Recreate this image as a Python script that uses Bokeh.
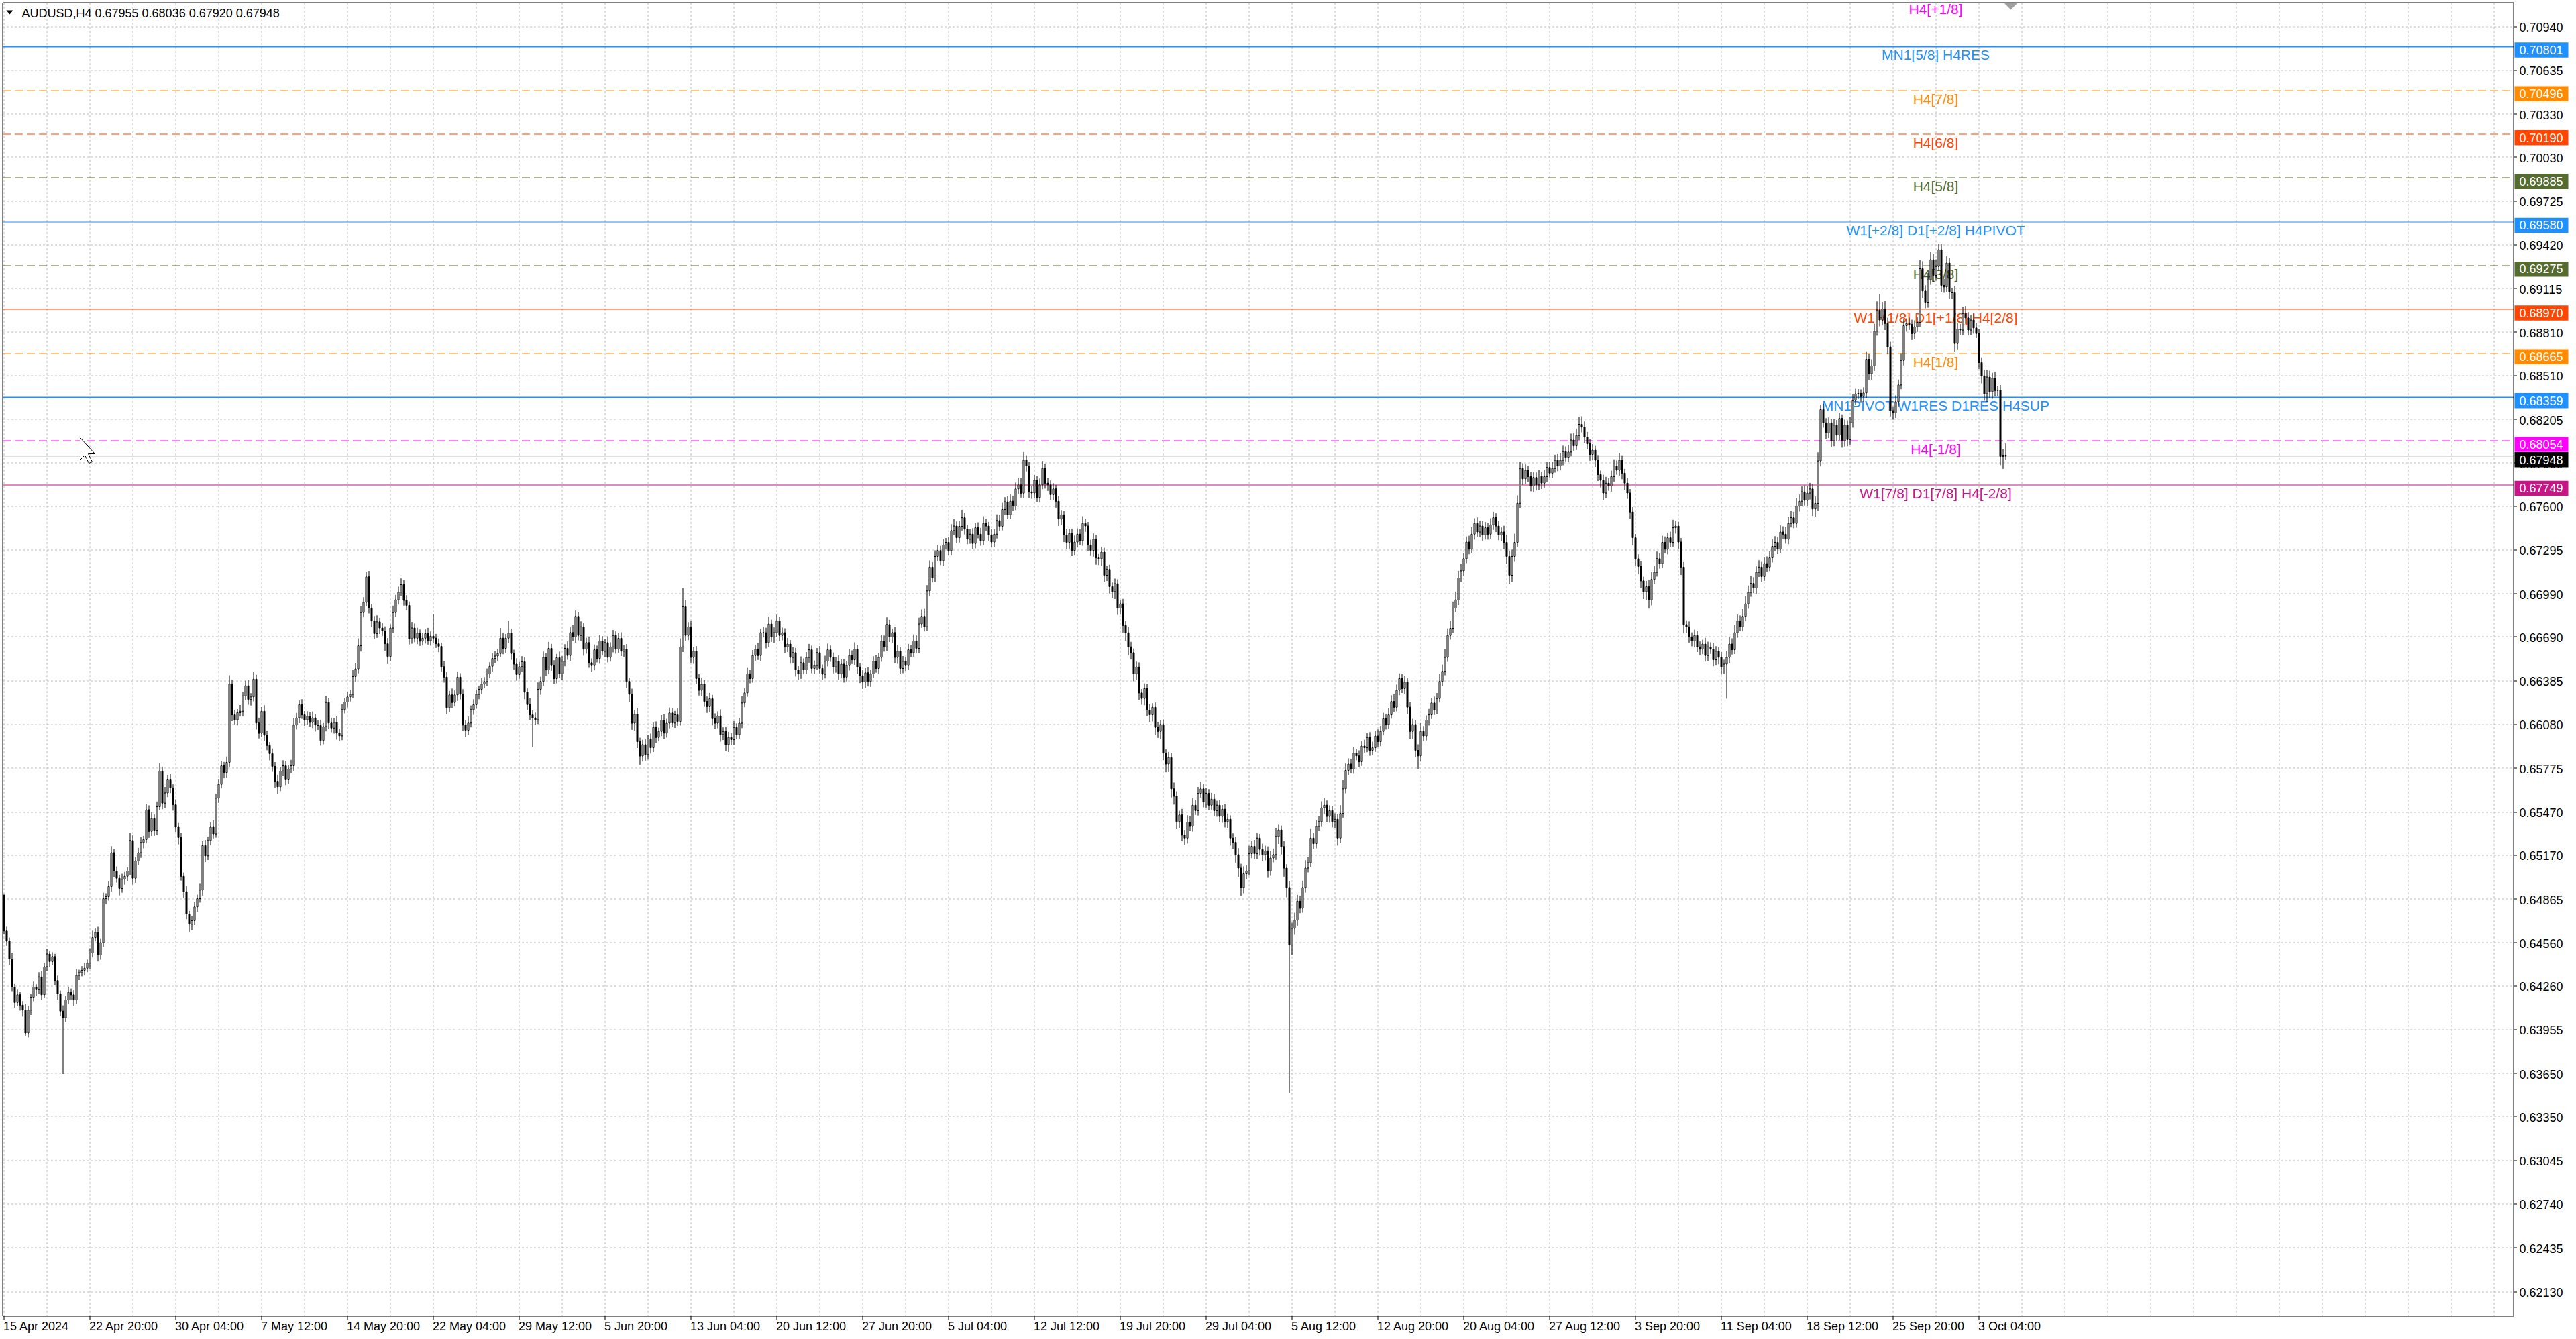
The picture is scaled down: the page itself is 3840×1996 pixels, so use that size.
import math
from bokeh.plotting import figure
from bokeh.models import Range1d, ColumnDataSource
from bokeh.core.properties import value
from bokeh.embed import file_html
from bokeh.resources import INLINE

# ---------------- data ----------------
symbol = "AUDUSD"
timeframe = "H4"
first_open = 64891          # price x 1e5
closes = [
    64642, 64571, 64447, 64251, 64144, 64198, 64126, 64091, 63931, 64091,
    64180, 64251, 64233, 64322, 64198, 64393, 64482, 64429, 64464, 64297,
    64205, 64084, 64038, 64162, 64215, 64198, 64162, 64333, 64351, 64368,
    64383, 64418, 64489, 64596, 64632, 64475, 64561, 64867, 64881, 64952,
    65187, 65059, 65009, 64938, 65002, 65023, 65059, 65272, 65009, 65130,
    65187, 65258, 65279, 65486, 65336, 65425, 65343, 65507, 65756, 65532,
    65603, 65699, 65639, 65521, 65365, 65293, 65023, 64916, 64760, 64689,
    64714, 64810, 64867, 64927, 65237, 65165, 65272, 65365, 65318, 65567,
    65663, 65792, 65745, 65816, 66361, 66147, 66112, 66162, 66172, 66279,
    66350, 66254, 66272, 66396, 66090, 66019, 66172, 66005, 65934, 65877,
    65788, 65685, 65646, 65756, 65792, 65699, 65770, 65792, 66076, 66126,
    66218, 66147, 66112, 66137, 66094, 66126, 66076, 66073, 65969, 66065,
    66233, 66090, 66055, 66094, 66019, 66001, 66183, 66236, 66272, 66290,
    66414, 66467, 66628, 66859, 66930, 67108, 66891, 66802, 66713, 66795,
    66752, 66731, 66642, 66553, 66752, 66859, 66948, 67001, 67054, 66944,
    66909, 66677, 66752, 66681, 66716, 66660, 66681, 66713, 66663, 66695,
    66681, 66642, 66624, 66482, 66410, 66197, 66286, 66233, 66286, 66410,
    66290, 66076, 66040, 66090, 66183, 66218, 66290, 66325, 66361, 66379,
    66432, 66485, 66539, 66556, 66574, 66681, 66610, 66681, 66716, 66574,
    66500, 66428, 66482, 66517, 66304, 66218, 66147, 66126, 66112, 66325,
    66380, 66547, 66460, 66610, 66490, 66400, 66545, 66433, 66520, 66610,
    66560, 66720, 66690, 66833, 66700, 66760, 66604, 66650, 66510, 66490,
    66600, 66540, 66662, 66590, 66650, 66547, 66620, 66700, 66604, 66680,
    66590, 66604, 66380, 66290, 66089, 66150, 65960, 65860, 65940, 65870,
    65980, 65918, 66060, 65990, 66032, 66110, 66020, 66089, 66160, 66090,
    66147, 66100, 66620, 66900, 66700, 66760, 66547, 66590, 66400, 66318,
    66360, 66240, 66204, 66260, 66120, 66089, 66140, 66010, 66032, 65940,
    65990, 65975, 66060, 66010, 66089, 66230, 66300, 66433, 66400, 66560,
    66604, 66560, 66720, 66719, 66650, 66780, 66690, 66719, 66800, 66700,
    66719, 66620, 66640, 66547, 66580, 66460, 66433, 66510, 66460, 66547,
    66600, 66470, 66490, 66580, 66470, 66430, 66520, 66600, 66547, 66480,
    66520, 66433, 66500, 66410, 66490, 66560, 66530, 66604, 66480, 66420,
    66375, 66440, 66380, 66433, 66520, 66470, 66547, 66660, 66620, 66776,
    66690, 66720, 66547, 66590, 66470, 66520, 66490, 66600, 66580, 66662,
    66610, 66780, 66833, 66760, 67010, 67176, 67100, 67250, 67291, 67220,
    67330, 67348, 67290, 67430, 67462, 67380, 67460, 67520, 67440, 67370,
    67405, 67340, 67450, 67405, 67360, 67480, 67462, 67400, 67350, 67405,
    67500, 67460, 67577, 67630, 67540, 67634, 67600, 67720, 67748, 67690,
    67920, 67880, 67700, 67691, 67780, 67660, 67748, 67863, 67760, 67748,
    67680, 67720, 67634, 67510, 67540, 67400, 67348, 67410, 67291, 67350,
    67405, 67360, 67480, 67462, 67330, 67291, 67370, 67240, 67234, 67280,
    67119, 67160, 67040, 67005, 67060, 66890, 66920, 66770, 66719, 66620,
    66580, 66433, 66480, 66300, 66261, 66330, 66180, 66147, 66200, 66060,
    66032, 66080, 65880, 65804, 65850, 65632, 65580, 65403, 65450, 65310,
    65289, 65400, 65370, 65518, 65480, 65600, 65632, 65540, 65600, 65518,
    65560, 65480, 65518, 65440, 65490, 65403, 65420, 65289, 65260, 65174,
    65080, 64945, 65040, 65060, 65180, 65232, 65180, 65289, 65210, 65174,
    65200, 65060, 65150, 65174, 65300, 65346, 65230, 65080, 64945, 64545,
    64660, 64717, 64850, 64800, 64945, 65080, 65117, 65289, 65250, 65370,
    65403, 65500, 65518, 65440, 65480, 65403, 65420, 65289, 65460, 65632,
    65760, 65804, 65770, 65880, 65861, 65820, 65930, 65918, 65990, 65900,
    65918, 66000, 65960, 66032, 66120, 66080, 66147, 66240, 66200, 66318,
    66400, 66330, 66375, 66200, 66032, 66080, 65900, 65861, 66032, 66000,
    66110, 66147, 66230, 66180, 66261, 66380, 66450, 66547, 66700, 66750,
    66890, 66947, 67100, 67150, 67234, 67350, 67300, 67405, 67480, 67420,
    67462, 67400, 67450, 67405, 67470, 67520, 67462, 67400, 67420, 67348,
    67250, 67119, 67250, 67348, 67620, 67863, 67790, 67850, 67806, 67740,
    67800, 67748, 67810, 67760, 67806, 67870, 67830, 67863, 67920, 67880,
    67920, 67980, 67940, 67977, 68060, 68020, 68092, 68170, 68150, 68080,
    68034, 67960, 67990, 67920, 67820, 67780, 67691, 67760, 67740, 67806,
    67880, 67850, 67920, 67830, 67760, 67691, 67560, 67380, 67234, 67180,
    67080, 67005, 67040, 66947, 67090, 67140, 67234, 67200, 67348, 67300,
    67380, 67348, 67450, 67462, 67350, 67176, 66776, 66760, 66690, 66662,
    66700, 66620, 66604, 66640, 66560, 66620, 66604, 66530, 66590, 66547,
    66480, 66500, 66547, 66640, 66600, 66719, 66800, 66760, 66833, 66920,
    67000, 67062, 67030, 67140, 67176, 67110, 67200, 67176, 67240, 67320,
    67348, 67300, 67420, 67405, 67370, 67480, 67520, 67480, 67600, 67634,
    67700, 67640, 67691, 67720, 67580, 67619, 67915, 68273, 68180, 68110,
    68180, 68055, 68164, 68094, 68211, 68055, 68164, 68063, 68180, 68335,
    68382, 68385, 68363, 68388, 68623, 68522, 68577, 68818, 68966, 68896,
    68974, 68872, 68709, 68265, 68250, 68327, 68444, 68615, 68857, 68872,
    68865, 68802, 68849, 68880, 69254, 69098, 69020, 69176, 69316, 69207,
    69269, 69386, 69137, 69126, 69293, 69090, 69086, 68732, 68833, 68826,
    68942, 68911, 68826, 68896, 68841, 68802, 68600, 68507, 68382, 68499,
    68397, 68491, 68405, 68408, 67946, 67955, 67948,
]
upper_wick = [
    12, 30, 25, 40, 22, 35, 18, 28, 45, 30,
    26, 38, 20, 33, 41, 27, 36, 24, 30, 19,
    34, 22, 40, 28, 35, 26, 31, 44, 21, 29,
    37, 25, 33, 48, 27, 39, 30, 42, 24, 35,
    46, 28, 32, 25, 38, 30, 27, 52, 36, 29,
    34, 41, 26, 39, 31, 45, 28, 36, 55, 30,
    42, 27, 35, 24, 38, 29, 33, 26, 40, 22,
    31, 36, 28, 44, 30, 39, 25, 34, 47, 29,
    38, 33, 27, 41, 62, 30, 36, 25, 43, 28,
    35, 40, 26, 48, 31, 37, 29, 42, 33, 24,
    36, 30, 45, 27, 39, 32, 28, 41, 50, 34,
    29, 38, 26, 35, 31, 44, 27, 33, 40, 25,
    46, 30, 37, 28, 42, 33, 39, 26, 35, 31,
    44, 38, 52, 47, 36, 35, 41, 29, 33, 45,
    28, 37, 32, 40, 26, 48, 34, 39, 43, 30,
    36, 27, 42, 31, 38, 25, 34, 29, 40, 33,
    153, 30, 37, 26, 41, 35, 28, 44, 31, 39,
    27, 36, 32, 45, 29, 38, 34, 26, 42, 31,
    37, 28, 40, 33, 30, 71, 35, 29, 86, 32,
    26, 41, 34, 38, 30, 27, 44, 31, 36, 48,
    33, 40, 28, 45, 31, 37, 26, 42, 35, 29,
    48, 36, 52, 40, 31, 38, 27, 34, 43, 30,
    37, 29, 41, 33, 26, 44, 32, 38, 28, 35,
    42, 30, 36, 27, 39, 31, 45, 28, 34, 40,
    29, 37, 33, 41, 26, 35, 43, 30, 38, 32,
    27, 44, 60, 130, 45, 33, 39, 28, 36, 31,
    42, 29, 35, 40, 26, 37, 31, 45, 28, 34,
    39, 30, 43, 27, 36, 48, 33, 41, 29, 38,
    32, 45, 28, 40, 35, 52, 30, 37, 44, 27,
    36, 31, 42, 28, 39, 33, 26, 44, 30, 37,
    41, 29, 35, 32, 46, 28, 38, 43, 30, 34,
    27, 40, 33, 37, 29, 45, 36, 48, 31, 26,
    38, 32, 41, 28, 35, 44, 30, 46, 39, 50,
    33, 28, 37, 42, 30, 36, 29, 41, 34, 45,
    38, 44, 48, 52, 40, 46, 35, 42, 39, 33,
    41, 30, 37, 45, 48, 32, 39, 55, 34, 29,
    36, 42, 31, 38, 44, 50, 33, 29, 40, 35,
    43, 38, 46, 32, 41, 47, 39, 44, 51, 48,
    57, 35, 30, 42, 37, 29, 44, 52, 33, 38,
    31, 40, 28, 36, 33, 27, 39, 30, 34, 45,
    41, 38, 50, 32, 28, 36, 40, 31, 27, 35,
    30, 26, 33, 29, 36, 31, 28, 34, 30, 40,
    35, 29, 38, 32, 27, 36, 30, 41, 28, 33,
    37, 30, 34, 28, 39, 31, 44, 35, 29, 42,
    36, 48, 40, 52, 38, 45, 50, 33, 39, 30,
    44, 36, 31, 38, 29, 34, 40, 27, 33, 36,
    45, 30, 52, 41, 56, 38, 44, 33, 29, 40,
    36, 31, 48, 42, 60, 35, 30, 38, 27, 45,
    40, 52, 44, 38, 47, 55, 41, 63, 36, 42,
    39, 45, 50, 33, 37, 30, 41, 34, 58, 62,
    48, 40, 36, 43, 31, 39, 35, 44, 30, 37,
    42, 33, 46, 38, 41, 35, 49, 44, 52, 40,
    36, 30, 45, 28, 34, 39, 31, 42, 58, 37,
    33, 41, 36, 44, 38, 52, 47, 56, 49, 53,
    45, 58, 50, 46, 41, 39, 44, 48, 36, 42,
    38, 33, 40, 35, 46, 41, 30, 37, 32, 44,
    52, 38, 47, 60, 55, 48, 36, 41, 33, 30,
    39, 35, 42, 31, 44, 37, 40, 46, 38, 43,
    47, 41, 36, 50, 45, 52, 48, 54, 56, 40,
    37, 33, 42, 30, 36, 28, 39, 44, 35, 41,
    46, 38, 50, 34, 30, 37, 28, 33, 26, 31,
    35, 29, 40, 48, 52, 44, 50, 38, 46, 41,
    36, 42, 55, 33, 30, 28, 35, 29, 37, 31,
    40, 34, 38, 30, 43, 36, 32, 41, 35, 29,
    37, 31, 44, 48, 40, 52, 45, 39, 50, 56,
    48, 53, 44, 41, 47, 36, 42, 50, 45, 51,
    43, 38, 46, 40, 52, 44, 49, 41, 55, 47,
    39, 45, 50, 42, 36, 48, 60, 35, 40, 33,
    38, 30, 44, 36, 41, 28, 39, 34, 42, 47,
    35, 30, 28, 40, 55, 38, 46, 52, 60, 110,
    48, 55, 40, 35, 30, 44, 38, 50, 46, 36,
    41, 33, 45, 38, 60, 52, 40, 48, 55, 42,
    50, 40, 38, 45, 52, 36, 30, 44, 41, 35,
    48, 52, 40, 38, 45, 33, 30, 36, 42, 50,
    44, 38, 46, 30, 35, 40, 81,
]
lower_wick = [
    25, 32, 40, 28, 36, 22, 38, 45, 18, 30,
    34, 27, 41, 29, 36, 24, 31, 38, 26, 33,
    42, 35, 392, 30, 27, 38, 44, 29, 33, 25,
    36, 28, 40, 31, 26, 45, 33, 29, 38, 27,
    35, 42, 30, 48, 29, 37, 33, 26, 44, 31,
    28, 36, 40, 27, 45, 32, 38, 30, 25, 42,
    34, 29, 37, 41, 33, 48, 30, 44, 36, 52,
    40, 31, 35, 27, 38, 43, 29, 34, 31, 26,
    33, 28, 40, 36, 30, 44, 32, 38, 27, 35,
    29, 37, 42, 31, 45, 36, 28, 40, 33, 47,
    38, 44, 52, 30, 36, 41, 33, 29, 35, 31,
    37, 28, 42, 34, 30, 39, 45, 31, 36, 27,
    33, 40, 29, 38, 44, 35, 30, 26, 37, 32,
    28, 35, 31, 40, 33, 27, 38, 44, 36, 30,
    42, 34, 48, 52, 30, 37, 28, 33, 29, 36,
    31, 40, 35, 28, 42, 33, 30, 38, 27, 34,
    36, 29, 41, 33, 38, 46, 31, 37, 28, 42,
    35, 40, 48, 33, 30, 36, 28, 34, 31, 27,
    33, 29, 36, 30, 38, 27, 41, 32, 35, 44,
    37, 43, 30, 35, 48, 40, 36, 203, 33, 29,
    38, 31, 44, 29, 36, 40, 33, 27, 42, 35,
    30, 37, 28, 41, 34, 39, 45, 31, 36, 43,
    33, 28, 37, 30, 42, 35, 29, 38, 31, 26,
    34, 40, 48, 55, 46, 52, 44, 60, 38, 42,
    35, 41, 30, 37, 28, 33, 39, 31, 36, 29,
    34, 30, 27, 36, 41, 33, 38, 45, 40, 36,
    42, 37, 44, 39, 46, 41, 35, 50, 38, 47,
    52, 40, 36, 31, 28, 34, 30, 27, 33, 29,
    36, 31, 38, 33, 40, 29, 35, 42, 30, 37,
    34, 41, 36, 44, 39, 46, 42, 35, 31, 28,
    37, 33, 40, 29, 35, 42, 30, 36, 31, 44,
    39, 45, 32, 38, 30, 34, 29, 36, 48, 52,
    47, 40, 35, 38, 31, 29, 36, 30, 33, 27,
    36, 42, 38, 45, 40, 33, 37, 29, 31, 28,
    30, 34, 27, 32, 29, 35, 31, 28, 33, 30,
    36, 32, 29, 34, 31, 38, 33, 30, 37, 35,
    32, 38, 34, 29, 36, 31, 35, 40, 33, 37,
    30, 34, 28, 36, 31, 29, 33, 27, 35, 30,
    32, 38, 44, 40, 36, 33, 35, 30, 38, 42,
    36, 40, 45, 48, 42, 50, 46, 44, 39, 35,
    33, 30, 36, 41, 45, 38, 42, 47, 44, 50,
    46, 40, 48, 43, 52, 47, 44, 50, 56, 60,
    48, 52, 45, 50, 44, 47, 42, 49, 46, 51,
    45, 53, 48, 57, 55, 60, 58, 52, 47, 44,
    50, 38, 33, 36, 30, 34, 29, 37, 40, 35,
    31, 36, 42, 38, 44, 40, 47, 52, 49, 56,
    62, 58, 40, 36, 33, 31, 38, 35, 42, 46,
    40, 48, 34, 30, 37, 52, 55, 60, 68, 1030,
    70, 45, 38, 34, 31, 36, 30, 28, 35, 32,
    30, 36, 41, 38, 44, 40, 47, 52, 33, 29,
    31, 35, 28, 33, 30, 36, 29, 34, 31, 38,
    33, 29, 36, 31, 28, 35, 30, 27, 33, 29,
    34, 31, 36, 48, 55, 52, 46, 90, 40, 35,
    31, 37, 29, 34, 30, 28, 33, 27, 31, 29,
    34, 30, 36, 28, 33, 31, 35, 29, 38, 32,
    36, 40, 33, 38, 31, 35, 42, 37, 44, 48,
    52, 60, 45, 38, 30, 36, 42, 34, 40, 37,
    44, 39, 35, 41, 33, 37, 30, 34, 29, 36,
    31, 35, 28, 33, 30, 34, 29, 32, 36, 40,
    38, 44, 41, 47, 45, 50, 48, 36, 33, 39,
    35, 31, 37, 42, 46, 40, 48, 52, 50, 55,
    47, 52, 58, 60, 38, 33, 30, 35, 31, 29,
    36, 33, 30, 41, 48, 55, 62, 45, 40, 38,
    44, 36, 40, 35, 42, 38, 33, 45, 40, 48,
    52, 46, 240, 38, 33, 30, 35, 28, 32, 29,
    34, 31, 36, 40, 33, 37, 30, 35, 28, 32,
    30, 34, 29, 36, 31, 35, 28, 33, 30, 37,
    32, 36, 40, 45, 48, 52, 50, 38, 33, 42,
    36, 44, 38, 42, 35, 48, 40, 46, 37, 33,
    30, 36, 40, 34, 38, 45, 42, 35, 31, 44,
    38, 46, 52, 40, 48, 36, 33, 30, 35, 42,
    38, 45, 40, 36, 33, 48, 42, 38, 35, 44,
    37, 32, 46, 40, 35, 48, 42, 55, 40, 36,
    34, 42, 38, 35, 40, 32, 45, 52, 48, 55,
    46, 50, 42, 38, 60, 86, 28,
]

date_labels = ["15 Apr 2024", "22 Apr 20:00", "30 Apr 04:00", "7 May 12:00", "14 May 20:00",
               "22 May 04:00", "29 May 12:00", "5 Jun 20:00", "13 Jun 04:00", "20 Jun 12:00",
               "27 Jun 20:00", "5 Jul 04:00", "12 Jul 12:00", "19 Jul 20:00", "29 Jul 04:00",
               "5 Aug 12:00", "12 Aug 20:00", "20 Aug 04:00", "27 Aug 12:00", "3 Sep 20:00",
               "11 Sep 04:00", "18 Sep 12:00", "25 Sep 20:00", "3 Oct 04:00"]
bars_per_label = 32
bars_per_grid = 16

price_labels = ["0.70940", "0.70635", "0.70330", "0.70030", "0.69725", "0.69420", "0.69115",
                "0.68810", "0.68510", "0.68205", "0.67900", "0.67600", "0.67295", "0.66990",
                "0.66690", "0.66385", "0.66080", "0.65775", "0.65470", "0.65170", "0.64865",
                "0.64560", "0.64260", "0.63955", "0.63650", "0.63350", "0.63045", "0.62740",
                "0.62435", "0.62130"]

level_prices = [0.70801, 0.70496, 0.70190, 0.69885, 0.69580, 0.69275,
                0.68970, 0.68665, 0.68359, 0.68054, 0.67749]
level_names = ["MN1[5/8] H4RES", "H4[7/8]", "H4[6/8]", "H4[5/8]", "W1[+2/8] D1[+2/8] H4PIVOT",
               "H4[3/8]", "W1[+1/8] D1[+1/8] H4[2/8]", "H4[1/8]", "MN1PIVOT W1RES D1RES H4SUP",
               "H4[-1/8]", "W1[7/8] D1[7/8] H4[-2/8]"]
level_colors = ["#1E90FF", "#FF8C00", "#FF4500", "#556B2F", "#1E90FF", "#556B2F",
                "#FF4500", "#FF8C00", "#1E90FF", "#FF00FF", "#C71585"]
level_dashed = [False, True, True, True, False, True, False, True, False, True, False]
level_widths = [2, 1, 1, 1, 1, 1, 1, 1, 2, 1, 1]
top_level_price = 0.71106
top_level_name = "H4[+1/8]"
top_level_color = "#FF00FF"

# ---------------- layout (canvas pixels <-> data) ----------------
FONT = "Liberation Sans"
W, H = 3836, 1992
X0 = -1.375            # bar index at canvas x = 0
PX_PER_BAR = 4.0
PX_PER_PRICE = 21408.0
FL, FT, FR, FB = 3.5, 3.5, 3746.5, 1961.5   # chart frame edges (px)


def bx(px):
    return X0 + px / PX_PER_BAR


def xpx(b):
    return (b - X0) * PX_PER_BAR


def py(px):
    return 0.70940 - (px - 39) / PX_PER_PRICE


def ypx(p):
    return 39 + (0.70940 - p) * PX_PER_PRICE


def crisp(p, w=1):
    y = ypx(p)
    return py(math.floor(y) + 0.5) if w % 2 else py(round(y))


n = len(closes)
assert len(upper_wick) == n and len(lower_wick) == n
opens = [first_open] + closes[:-1]
xs = list(range(n))
o = [v / 1e5 for v in opens]
c = [v / 1e5 for v in closes]
hi = [(max(a, b) + u) / 1e5 for a, b, u in zip(opens, closes, upper_wick)]
lo = [(min(a, b) - d) / 1e5 for a, b, d in zip(opens, closes, lower_wick)]
top = [max(a, b) for a, b in zip(o, c)]
bot = [min(a, b) for a, b in zip(o, c)]
fill = ["white" if cc >= oo else "black" for oo, cc in zip(o, c)]
src = ColumnDataSource(dict(x=xs, hi=hi, lo=lo, top=top, bot=bot, fill=fill))

p = figure(width=W, height=H, x_range=Range1d(bx(0), bx(W)), y_range=Range1d(py(H), py(0)),
           x_axis_location=None, y_axis_location=None, output_backend="svg",
           toolbar_location=None, min_border=0, background_fill_color="white",
           border_fill_color="white", outline_line_color=None)
p.grid.grid_line_color = None

x_left, x_right = bx(FL), bx(FR)
y_top, y_bot = py(FT), py(FB)

# grid
tick_prices = [float(s) for s in price_labels]
gy = [crisp(t) for t in tick_prices]
p.segment(x0=[x_left] * len(gy), x1=[x_right] * len(gy), y0=gy, y1=gy,
          line_color="#c0c0c0", line_dash="3 3", line_width=1)
gx = [k * bars_per_grid for k in range(0, 1000) if xpx(k * bars_per_grid) < FR]
p.segment(x0=gx, x1=gx, y0=[y_top] * len(gx), y1=[y_bot] * len(gx),
          line_color="#c0c0c0", line_dash="3 3", line_width=1)

# level lines
for pr, col, dsh, w in zip(level_prices, level_colors, level_dashed, level_widths):
    yy = crisp(pr, w)
    p.segment(x0=[x_left], x1=[x_right], y0=[yy], y1=[yy], line_color=col, line_width=w,
              line_dash="12 6" if dsh else "solid")
cur = c[-1]
p.segment(x0=[x_left], x1=[x_right], y0=[crisp(cur)], y1=[crisp(cur)],
          line_color="#c0c0c0", line_width=1)

# level texts
lx = bx(2885)
p.text(x=[lx] * len(level_prices), y=level_prices, text=level_names, text_color=level_colors,
       text_font=value(FONT), text_font_size=value("21px"), text_align="center",
       text_baseline="top", y_offset=1)
p.text(x=[lx], y=[top_level_price], text=[top_level_name], text_color=[top_level_color],
       text_font=value(FONT), text_font_size=value("21px"), text_align="center",
       text_baseline="top", y_offset=-2)

# candles
p.segment(x0="x", x1="x", y0="lo", y1="hi", source=src, line_color="black", line_width=1)
p.vbar(x="x", top="top", bottom="bot", width=0.5, source=src, fill_color="fill",
       line_color="black", line_width=1)

# chart frame
p.segment(x0=[x_left, x_left, x_right, x_left], x1=[x_right, x_left, x_right, x_right],
          y0=[y_top, y_top, y_top, y_bot], y1=[y_top, y_bot, y_bot, y_bot],
          line_color="black", line_width=1)

# right price scale: ticks + labels
p.segment(x0=[x_right] * len(gy), x1=[bx(FR + 5)] * len(gy), y0=gy, y1=gy,
          line_color="black", line_width=1)
p.text(x=[bx(3755)] * len(tick_prices), y=tick_prices, text=price_labels, text_color="black",
       text_font=value(FONT), text_font_size=value("18px"), text_align="left",
       text_baseline="middle", y_offset=1)

# time scale: ticks + labels
lb = [k * bars_per_label for k in range(len(date_labels))]
p.segment(x0=lb, x1=lb, y0=[y_bot] * len(lb), y1=[py(FB + 5)] * len(lb),
          line_color="black", line_width=1)
p.text(x=lb, y=[py(1976)] * len(lb), text=date_labels, text_color="black",
       text_font=value(FONT), text_font_size=value("18px"), text_align="left",
       text_baseline="middle", x_offset=-1)

# coloured price boxes on the scale
box_prices = level_prices + [cur]
box_colors = level_colors + ["black"]
p.quad(left=[bx(3748)] * len(box_prices), right=[bx(3828)] * len(box_prices),
       top=[py(ypx(v) - 6) for v in box_prices], bottom=[py(ypx(v) + 16.5) for v in box_prices],
       fill_color=box_colors, line_color=None)
p.text(x=[bx(3755)] * len(box_prices), y=[py(ypx(v) + 5) for v in box_prices],
       text=[f"{v:.5f}" for v in box_prices], text_color="white", text_font=value(FONT),
       text_font_size=value("18px"), text_align="left", text_baseline="middle")

# chart-shift marker
p.patch(x=[bx(2987), bx(3007), bx(2997)], y=[py(4), py(4), py(14)],
        fill_color="#a0a0a0", line_color=None)

# mouse cursor
cur_pts = [(0, 0), (0, 33), (7, 26), (13, 38), (18, 36), (12, 24), (22, 24)]
p.patch(x=[bx(119 + dx) for dx, dy in cur_pts], y=[py(652 + dy) for dx, dy in cur_pts],
        fill_color="white", line_color="black", line_width=1)

# header
hdr = f"{symbol},{timeframe}  {o[-1]:.5f} {hi[-1]:.5f} {lo[-1]:.5f} {c[-1]:.5f}"
p.patch(x=[bx(9), bx(19), bx(14)], y=[py(15), py(15), py(21)], fill_color="black",
        line_color=None)
p.text(x=[bx(32)], y=[py(19.5)], text=[hdr], text_color="black", text_font=value(FONT),
       text_font_size=value("18px"), text_align="left", text_baseline="middle")

open("out.html", "w").write(file_html(p, INLINE))
